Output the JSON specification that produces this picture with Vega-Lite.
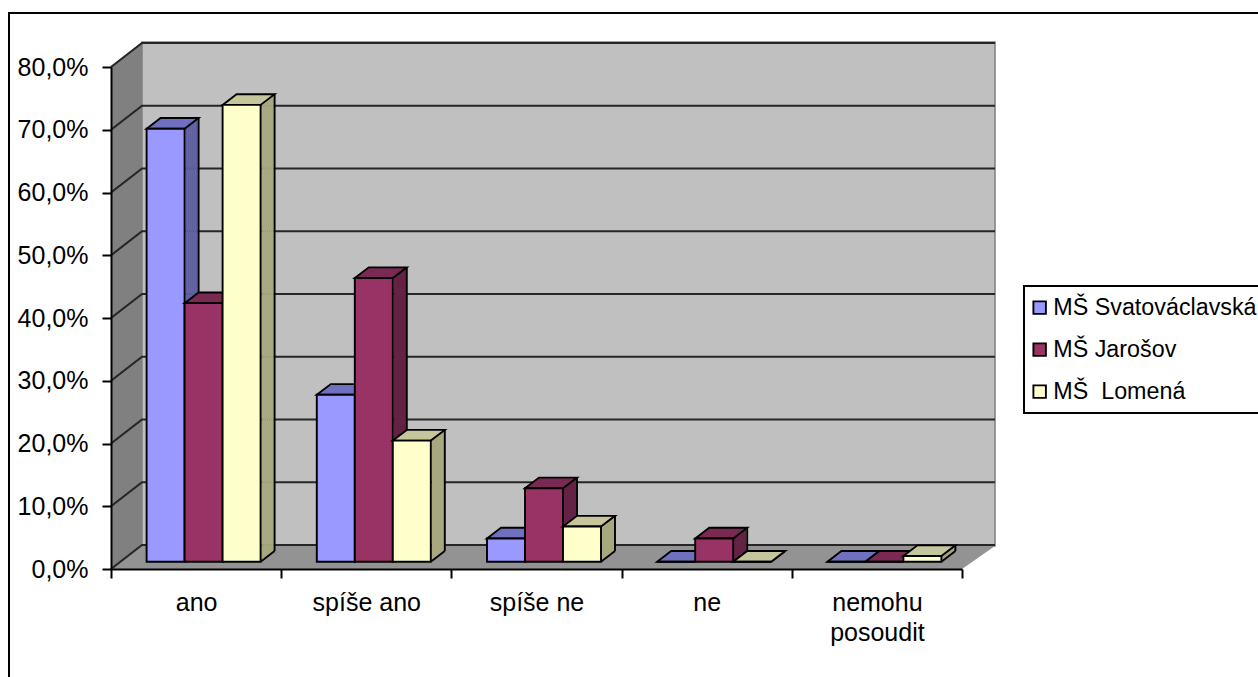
{"$schema":"https://vega.github.io/schema/vega-lite/v6.json","width":1258,"height":677,"autosize":"none","padding":0,"background":"white",
"config":{"view":{"stroke":null},"legend":{"strokeWidth":2}},
"datasets":{
"anker":[{"kategorie":"ano","hodnota":0}],
"mrizka":[{"kategorie":"ano","hodnota":0},{"kategorie":"ano","hodnota":10},{"kategorie":"ano","hodnota":20},{"kategorie":"ano","hodnota":30},{"kategorie":"ano","hodnota":40},{"kategorie":"ano","hodnota":50},{"kategorie":"ano","hodnota":60},{"kategorie":"ano","hodnota":70},{"kategorie":"ano","hodnota":80}],
"s1":[{"kategorie":"ano","skola":"MŠ Svatováclavská","hodnota":69.0},{"kategorie":"spíše ano","skola":"MŠ Svatováclavská","hodnota":26.6},{"kategorie":"spíše ne","skola":"MŠ Svatováclavská","hodnota":3.7},{"kategorie":"ne","skola":"MŠ Svatováclavská","hodnota":0},{"kategorie":"nemohu posoudit","skola":"MŠ Svatováclavská","hodnota":0}],
"s2":[{"kategorie":"ano","skola":"MŠ Jarošov","hodnota":41.2},{"kategorie":"spíše ano","skola":"MŠ Jarošov","hodnota":45.2},{"kategorie":"spíše ne","skola":"MŠ Jarošov","hodnota":11.7},{"kategorie":"ne","skola":"MŠ Jarošov","hodnota":3.7},{"kategorie":"nemohu posoudit","skola":"MŠ Jarošov","hodnota":0}],
"s3":[{"kategorie":"ano","skola":"MŠ  Lomená","hodnota":72.8},{"kategorie":"spíše ano","skola":"MŠ  Lomená","hodnota":19.3},{"kategorie":"spíše ne","skola":"MŠ  Lomená","hodnota":5.6},{"kategorie":"ne","skola":"MŠ  Lomená","hodnota":0},{"kategorie":"nemohu posoudit","skola":"MŠ  Lomená","hodnota":0.9}]
},
"encoding":{
"x":{"field":"kategorie","type":"nominal","scale":{"type":"band","domain":["ano","spíše ano","spíše ne","ne","nemohu posoudit"],"range":[111,962],"paddingInner":0,"paddingOuter":0},"axis":{"title":null,"orient":"bottom","offset":-108,"zindex":1,"tickBand":"extent","tickSize":9,"tickWidth":2,"tickColor":"black","domainColor":"black","domainWidth":2,"labelAngle":0,"labelFont":"Liberation Sans","labelFontSize":25,"labelColor":"black","labelPadding":12,"labelLimit":300,"labelLineHeight":30,"labelBaseline":"top","labelExpr":"datum.value === 'nemohu posoudit' ? ['nemohu','posoudit'] : datum.value"}},
"y":{"field":"hodnota","type":"quantitative","scale":{"domain":[0,80],"range":[569,67],"nice":false},"axis":{"title":null,"orient":"left","offset":-111,"zindex":1,"values":[0,10,20,30,40,50,60,70,80],"grid":false,"tickSize":9,"tickWidth":2,"tickColor":"black","domainColor":"black","domainWidth":2,"labelFont":"Liberation Sans","labelFontSize":25,"labelColor":"black","labelPadding":14,"labelExpr":"replace(format(datum.value,'.1f'),'.',',') + '%'"}}
},
"layer":[
{"data":{"name":"anker"},"mark":{"type":"point","size":4,"filled":true,"opacity":1,"fill":"#C0C0C0","stroke":"#808080","strokeWidth":1.5,"shape":"M31,-23V-527H884V-23Z"},"encoding":{"x":{"field":"kategorie","type":"nominal","bandPosition":0}}},
{"data":{"name":"anker"},"mark":{"type":"point","size":4,"filled":true,"opacity":1,"fill":"#808080","shape":"M0,0L31,-23V-527L0,-502Z"},"encoding":{"x":{"field":"kategorie","type":"nominal","bandPosition":0}}},
{"data":{"name":"anker"},"mark":{"type":"point","size":4,"filled":true,"opacity":1,"fill":"#939393","shape":"M0,0L31,-23H884L851,0Z"},"encoding":{"x":{"field":"kategorie","type":"nominal","bandPosition":0}}},
{"data":{"name":"mrizka"},"mark":{"type":"point","size":4,"filled":false,"opacity":1,"stroke":"#262626","strokeWidth":2.2,"shape":"M0,0L31,-24H884"},"encoding":{"x":{"field":"kategorie","type":"nominal","bandPosition":0}}},
{"data":{"name":"anker"},"mark":{"type":"point","size":4,"filled":false,"opacity":1,"stroke":"black","strokeWidth":2,"shape":"M-102,108V-556H1200"},"encoding":{"x":{"field":"kategorie","type":"nominal","bandPosition":0}}},

{"data":{"name":"s1"},"mark":{"type":"rule","color":"#5F5F9F","strokeWidth":2.4,"xOffset":-9.5,"yOffset":-8.83,"y2Offset":-8.83},"encoding":{"y2":{"datum":0}}},
{"data":{"name":"s1"},"mark":{"type":"rule","color":"#5F5F9F","strokeWidth":2.4,"xOffset":-7.5,"yOffset":-10.36,"y2Offset":-10.36},"encoding":{"y2":{"datum":0}}},
{"data":{"name":"s1"},"mark":{"type":"rule","color":"#5F5F9F","strokeWidth":2.4,"xOffset":-5.5,"yOffset":-11.88,"y2Offset":-11.88},"encoding":{"y2":{"datum":0}}},
{"data":{"name":"s1"},"mark":{"type":"rule","color":"#5F5F9F","strokeWidth":2.4,"xOffset":-3.5,"yOffset":-13.41,"y2Offset":-13.41},"encoding":{"y2":{"datum":0}}},
{"data":{"name":"s1"},"mark":{"type":"rule","color":"#5F5F9F","strokeWidth":2.4,"xOffset":-1.5,"yOffset":-14.94,"y2Offset":-14.94},"encoding":{"y2":{"datum":0}}},
{"data":{"name":"s1"},"mark":{"type":"rule","color":"#5F5F9F","strokeWidth":2.4,"xOffset":0.5,"yOffset":-16.47,"y2Offset":-16.47},"encoding":{"y2":{"datum":0}}},
{"data":{"name":"s1"},"mark":{"type":"rule","color":"black","strokeWidth":1.9,"xOffset":2.5,"yOffset":-18,"y2Offset":-18},"encoding":{"y2":{"datum":0}}},
{"data":{"name":"s1"},"mark":{"type":"point","size":4,"filled":false,"opacity":1,"stroke":"black","strokeWidth":1.9,"xOffset":-30.5,"yOffset":-7.3,"shape":"M19,0L33,-10.7"},"encoding":{"y":{"datum":0}}},
{"data":{"name":"s1"},"mark":{"type":"point","size":4,"filled":true,"opacity":1,"fill":"#7070C0","stroke":"black","strokeWidth":1.9,"xOffset":-30.5,"yOffset":-7.3,"shape":"M-19,0L-5,-10.7H33L19,0Z"}},
{"data":{"name":"s1"},"mark":{"type":"bar","width":38,"stroke":"black","strokeWidth":1.9,"xOffset":-30.5,"yOffset":-7.3,"y2Offset":-7.3},"encoding":{"color":{"field":"skola","type":"nominal","scale":{"domain":["MŠ Svatováclavská","MŠ Jarošov","MŠ  Lomená"],"range":["#9999FF","#993366","#FFFFCC"]},"legend":{"title":null,"orient":"none","legendX":1024,"legendY":286,"fillColor":"white","strokeColor":"black","padding":10,"symbolType":"square","symbolSize":156,"symbolOffset":-6,"symbolStrokeColor":"black","symbolStrokeWidth":1.9,"symbolOpacity":1,"labelFont":"Liberation Sans","labelFontSize":23.3,"labelColor":"black","labelLimit":300,"labelOffset":2,"rowPadding":18,"labelExpr":"replace(datum.label, 'MŠ  ', 'MŠ \u00a0')"}}}},

{"data":{"name":"s2"},"mark":{"type":"rule","color":"#642244","strokeWidth":2.4,"xOffset":28.5,"yOffset":-8.83,"y2Offset":-8.83},"encoding":{"y2":{"datum":0}}},
{"data":{"name":"s2"},"mark":{"type":"rule","color":"#642244","strokeWidth":2.4,"xOffset":30.5,"yOffset":-10.36,"y2Offset":-10.36},"encoding":{"y2":{"datum":0}}},
{"data":{"name":"s2"},"mark":{"type":"rule","color":"#642244","strokeWidth":2.4,"xOffset":32.5,"yOffset":-11.88,"y2Offset":-11.88},"encoding":{"y2":{"datum":0}}},
{"data":{"name":"s2"},"mark":{"type":"rule","color":"#642244","strokeWidth":2.4,"xOffset":34.5,"yOffset":-13.41,"y2Offset":-13.41},"encoding":{"y2":{"datum":0}}},
{"data":{"name":"s2"},"mark":{"type":"rule","color":"#642244","strokeWidth":2.4,"xOffset":36.5,"yOffset":-14.94,"y2Offset":-14.94},"encoding":{"y2":{"datum":0}}},
{"data":{"name":"s2"},"mark":{"type":"rule","color":"#642244","strokeWidth":2.4,"xOffset":38.5,"yOffset":-16.47,"y2Offset":-16.47},"encoding":{"y2":{"datum":0}}},
{"data":{"name":"s2"},"mark":{"type":"rule","color":"black","strokeWidth":1.9,"xOffset":40.5,"yOffset":-18,"y2Offset":-18},"encoding":{"y2":{"datum":0}}},
{"data":{"name":"s2"},"mark":{"type":"point","size":4,"filled":false,"opacity":1,"stroke":"black","strokeWidth":1.9,"xOffset":7.5,"yOffset":-7.3,"shape":"M19,0L33,-10.7"},"encoding":{"y":{"datum":0}}},
{"data":{"name":"s2"},"mark":{"type":"point","size":4,"filled":true,"opacity":1,"fill":"#7A2952","stroke":"black","strokeWidth":1.9,"xOffset":7.5,"yOffset":-7.3,"shape":"M-19,0L-5,-10.7H33L19,0Z"}},
{"data":{"name":"s2"},"mark":{"type":"bar","width":38,"stroke":"black","strokeWidth":1.9,"xOffset":7.5,"yOffset":-7.3,"y2Offset":-7.3},"encoding":{"color":{"field":"skola","type":"nominal"}}},

{"data":{"name":"s3"},"mark":{"type":"rule","color":"#A8A880","strokeWidth":2.4,"xOffset":66.5,"yOffset":-8.83,"y2Offset":-8.83},"encoding":{"y2":{"datum":0}}},
{"data":{"name":"s3"},"mark":{"type":"rule","color":"#A8A880","strokeWidth":2.4,"xOffset":68.5,"yOffset":-10.36,"y2Offset":-10.36},"encoding":{"y2":{"datum":0}}},
{"data":{"name":"s3"},"mark":{"type":"rule","color":"#A8A880","strokeWidth":2.4,"xOffset":70.5,"yOffset":-11.88,"y2Offset":-11.88},"encoding":{"y2":{"datum":0}}},
{"data":{"name":"s3"},"mark":{"type":"rule","color":"#A8A880","strokeWidth":2.4,"xOffset":72.5,"yOffset":-13.41,"y2Offset":-13.41},"encoding":{"y2":{"datum":0}}},
{"data":{"name":"s3"},"mark":{"type":"rule","color":"#A8A880","strokeWidth":2.4,"xOffset":74.5,"yOffset":-14.94,"y2Offset":-14.94},"encoding":{"y2":{"datum":0}}},
{"data":{"name":"s3"},"mark":{"type":"rule","color":"#A8A880","strokeWidth":2.4,"xOffset":76.5,"yOffset":-16.47,"y2Offset":-16.47},"encoding":{"y2":{"datum":0}}},
{"data":{"name":"s3"},"mark":{"type":"rule","color":"black","strokeWidth":1.9,"xOffset":78.5,"yOffset":-18,"y2Offset":-18},"encoding":{"y2":{"datum":0}}},
{"data":{"name":"s3"},"mark":{"type":"point","size":4,"filled":false,"opacity":1,"stroke":"black","strokeWidth":1.9,"xOffset":45.5,"yOffset":-7.3,"shape":"M19,0L33,-10.7"},"encoding":{"y":{"datum":0}}},
{"data":{"name":"s3"},"mark":{"type":"point","size":4,"filled":true,"opacity":1,"fill":"#C6C69C","stroke":"black","strokeWidth":1.9,"xOffset":45.5,"yOffset":-7.3,"shape":"M-19,0L-5,-10.7H33L19,0Z"}},
{"data":{"name":"s3"},"mark":{"type":"bar","width":38,"stroke":"black","strokeWidth":1.9,"xOffset":45.5,"yOffset":-7.3,"y2Offset":-7.3},"encoding":{"color":{"field":"skola","type":"nominal"}}}
]}
